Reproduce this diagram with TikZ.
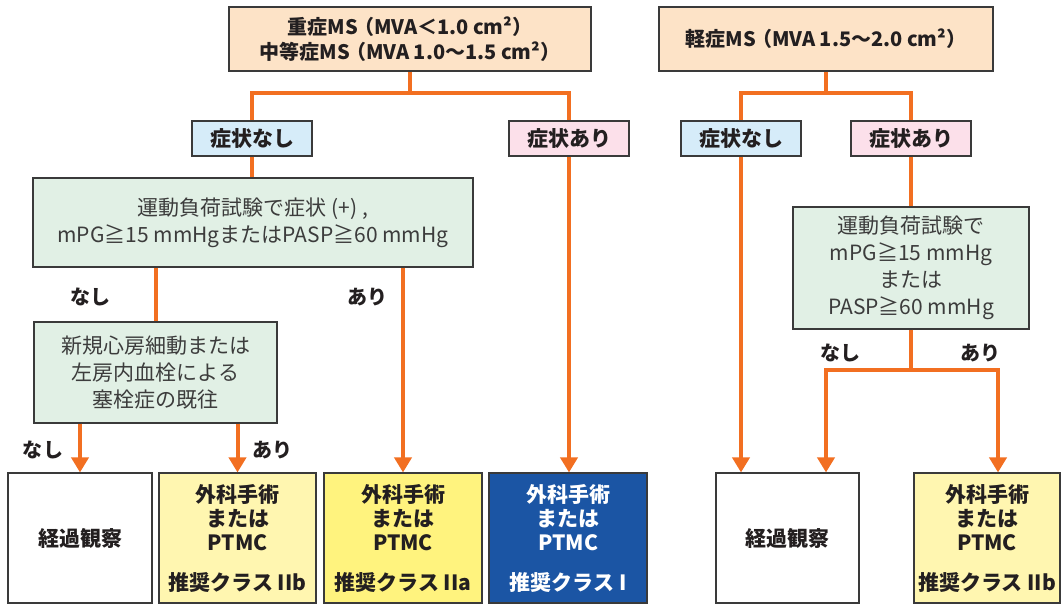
\documentclass[tikz,border=0pt]{standalone}
\usepackage{fontspec}
\setmainfont{Noto Sans CJK JP}
\usetikzlibrary{arrows.meta}
\definecolor{peach}{HTML}{FDE3C7}
\definecolor{lblue}{HTML}{D6ECF9}
\definecolor{lpink}{HTML}{FCE0EA}
\definecolor{lgreen}{HTML}{E1F0E5}
\definecolor{ylight}{HTML}{FFF6B0}
\definecolor{ystrong}{HTML}{FFF37E}
\definecolor{dblue}{HTML}{1B55A4}
\definecolor{orng}{HTML}{F26F21}
\definecolor{bordc}{HTML}{3A3A3A}
\definecolor{txt}{HTML}{231F20}
\definecolor{gtxt}{HTML}{3C3C3C}
\tikzset{
  box/.style={draw=bordc, line width=1.1pt, inner sep=0pt, align=center, text=txt, anchor=center},
  hdr/.style={box, fill=peach, minimum height=64pt, font=\fontsize{20}{25}\selectfont\bfseries},
  sym/.style={box, minimum width=120pt, minimum height=35pt, font=\fontsize{21}{24}\selectfont\bfseries},
  cond/.style={box, fill=lgreen, text=gtxt, font=\fontsize{21}{27}\selectfont},
  res/.style={box, minimum height=130pt, font=\fontsize{21}{24}\selectfont\bfseries},
  lbl/.style={inner sep=0pt, text=txt, font=\fontsize{20}{22}\selectfont\bfseries},
  oline/.style={draw=orng, line width=4pt, line join=miter},
  oarr/.style={oline, -{Triangle[length=15pt,width=17pt]}},
}
\begin{document}
\begin{tikzpicture}[x=1pt,y=-1pt]
\useasboundingbox (0,0) rectangle (1062,605);
% top boxes
\node[hdr, minimum width=362pt] (t1) at (410,39) {重症MS\kern-0.2em（MVA＜1.0 cm²）\\中等症MS\kern-0.2em（MVA 1.0～1.5 cm²）};
\node[hdr, minimum width=334pt] (t2) at (826,39) {軽症MS\kern-0.2em（MVA 1.5～2.0 cm²）};
% symptom boxes
\node[sym, fill=lblue] (snL) at (252,138.5) {症状なし};
\node[sym, fill=lpink] (saL) at (569,138.5) {症状あり};
\node[sym, fill=lblue] (snR) at (741,138.5) {症状なし};
\node[sym, fill=lpink] (saR) at (911,138.5) {症状あり};
% condition boxes
\node[cond, minimum width=440pt, minimum height=89pt] (g1) at (253,222.5) {運動負荷試験で症状 (+) ,\\mPG≧15 mmHgまたはPASP≧60 mmHg};
\node[cond, minimum width=243pt, minimum height=101pt] (g2) at (155.5,372.5) {新規心房細動または\\左房内血栓による\\塞栓症の既往};
\node[cond, minimum width=236pt, minimum height=122pt] (gR) at (911,268) {運動負荷試験で\\mPG≧15 mmHg\\または\\PASP≧60 mmHg};
% result boxes
\node[res, fill=white, minimum width=144pt] (A) at (80,538) {経過観察};
\node[res, fill=ylight, minimum width=157pt] (B) at (237.5,538) {外科手術\\または\\PTMC\\[16pt]推奨クラス IIb};
\node[res, fill=ystrong, minimum width=158pt] (C) at (403,538) {外科手術\\または\\PTMC\\[16pt]推奨クラス IIa};
\node[res, fill=dblue, text=white, minimum width=158pt] (D) at (568,538) {外科手術\\または\\PTMC\\[16pt]推奨クラス I};
\node[res, fill=white, minimum width=143pt] (ekR) at (787.5,538) {経過観察};
\node[res, fill=ylight, minimum width=146pt] (yR) at (987,538) {外科手術\\または\\PTMC\\[16pt]推奨クラス IIb};
% labels
\node[lbl] (nL1) at (90,297) {なし};
\node[lbl] (aL1) at (367,297) {あり};
\node[lbl] (nL2) at (43,450) {なし};
\node[lbl] (aL2) at (272,450) {あり};
\node[lbl] (nR) at (840,353) {なし};
\node[lbl] (aR) at (980,353) {あり};
% junctions
\coordinate (j1) at (t1.south |- 0,93);
\coordinate (j2) at (t2.south |- 0,93);
\coordinate (j3) at (gR.south |- 0,370);
\coordinate (j3L) at (826,370);
\coordinate (j3R) at (998,370);
% left connectors
\draw[oline] (t1.south) -- (j1);
\draw[oline] (snL.north) |- (j1) -| (saL.north);
\draw[oline] (snL.south) -- (snL.south |- g1.north);
\draw[oline] (g2.north |- g1.south) -- (g2.north);
\draw[oarr] (C.north |- g1.south) -- (C.north);
\draw[oarr] (saL.south) -- (saL.south |- D.north);
\draw[oarr] (A.north |- g2.south) -- (A.north);
\draw[oarr] (B.north |- g2.south) -- (B.north);
% right connectors
\draw[oline] (t2.south) -- (j2);
\draw[oline] (snR.north) |- (j2) -| (saR.north);
\draw[oarr] (snR.south) -- (snR.south |- ekR.north);
\draw[oline] (saR.south) -- (saR.south |- gR.north);
\draw[oline] (gR.south) -- (j3);
\draw[oarr] (j3) -| (j3L |- ekR.north);
\draw[oarr] (j3) -| (j3R |- yR.north);
\end{tikzpicture}
\end{document}
